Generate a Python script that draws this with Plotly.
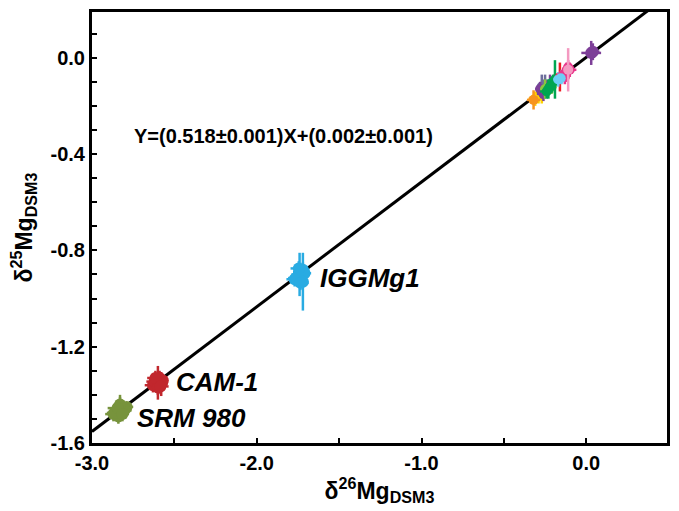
import plotly.graph_objects as go

# ---- data ----
slope = 0.518
intercept = 0.002
line_x = [-3.0, 0.6]

srm_x = [-2.87, -2.85, -2.84, -2.83, -2.82, -2.81, -2.79, -2.86, -2.80, -2.83, -2.845, -2.815]
srm_y = [-1.48, -1.47, -1.49, -1.46, -1.45, -1.465, -1.45, -1.475, -1.46, -1.44, -1.455, -1.48]
srm_ex = [0.05, 0.04, 0.04, 0.06, 0.03, 0.05, 0.04, 0.05, 0.04, 0.03, 0.06, 0.04]
srm_ey = [0.03, 0.03, 0.03, 0.05, 0.03, 0.03, 0.02, 0.03, 0.03, 0.04, 0.03, 0.03]

cam_x = [-2.63, -2.61, -2.60, -2.59, -2.58, -2.62, -2.57, -2.60, -2.615, -2.585]
cam_y = [-1.36, -1.35, -1.34, -1.33, -1.355, -1.345, -1.34, -1.37, -1.33, -1.365]
cam_ex = [0.05, 0.04, 0.05, 0.04, 0.04, 0.05, 0.03, 0.04, 0.05, 0.05]
cam_ey = [0.03, 0.04, 0.06, 0.03, 0.05, 0.03, 0.02, 0.05, 0.03, 0.03]

igg_x = [-1.77, -1.75, -1.74, -1.73, -1.72, -1.76, -1.71, -1.72, -1.745, -1.735]
igg_y = [-0.92, -0.91, -0.90, -0.89, -0.88, -0.915, -0.895, -0.93, -0.875, -0.935]
igg_ex = [0.05, 0.04, 0.05, 0.05, 0.04, 0.05, 0.04, 0.02, 0.05, 0.05]
igg_ey = [0.03, 0.03, 0.09, 0.03, 0.03, 0.03, 0.03, 0.12, 0.03, 0.03]

# top-right cluster: (name, color, x, y, ex, ey)
cluster = [
    ("yellow", "#ffd400", [-0.31, -0.29, -0.27], [-0.17, -0.16, -0.15], [0.04, 0.03, 0.03], [0.03, 0.03, 0.04]),
    ("orange", "#f7941d", [-0.32], [-0.175], [0.04], [0.04]),
    ("slate", "#6d6e9c", [-0.27, -0.25], [-0.12, -0.11], [0.03, 0.03], [0.05, 0.04]),
    ("purple2", "#7b3f98", [-0.26, -0.22, -0.28], [-0.15, -0.11, -0.13], [0.04, 0.03, 0.03], [0.03, 0.04, 0.03]),
    ("lime", "#8dc63f", [-0.25, -0.21], [-0.13, -0.12], [0.03, 0.03], [0.04, 0.03]),
    ("green", "#00a651", [-0.24, -0.22, -0.20, -0.23, -0.19], [-0.14, -0.12, -0.10, -0.13, -0.09], [0.04, 0.03, 0.03, 0.03, 0.02], [0.03, 0.03, 0.03, 0.04, 0.08]),
    ("red", "#ed1c24", [-0.16], [-0.08], [0.02], [0.06]),
    ("cyan", "#6dcff6", [-0.17, -0.15], [-0.09, -0.08], [0.03, 0.03], [0.03, 0.03]),
    ("magenta", "#e8378b", [-0.14, -0.12, -0.10, -0.13, -0.11], [-0.07, -0.06, -0.05, -0.08, -0.04], [0.04, 0.03, 0.04, 0.03, 0.03], [0.03, 0.04, 0.03, 0.03, 0.03]),
    ("pink", "#f49ac1", [-0.11], [-0.05], [0.02], [0.09]),
    ("cyan2", "#6dcff6", [-0.155], [-0.085], [0.0], [0.0]),
]

pt_x = [0.03, 0.04]
pt_y = [0.02, 0.025]
pt_ex = [0.06, 0.04]
pt_ey = [0.05, 0.035]

x_tickvals = [-3.0, -2.0, -1.0, 0.0]
x_ticktext = ["-3.0", "-2.0", "-1.0", "0.0"]
y_tickvals = [-1.6, -1.2, -0.8, -0.4, 0.0]
y_ticktext = ["-1.6", "-1.2", "-0.8", "-0.4", "0.0"]

FONT = "Arial, Liberation Sans, sans-serif"

fig = go.Figure()

line_y = [slope * v + intercept for v in line_x]
fig.add_trace(go.Scatter(x=line_x, y=line_y, mode="lines",
                         line=dict(color="black", width=3), showlegend=False))


def add_group(xs, ys, exs, eys, color, size=10):
    fig.add_trace(go.Scatter(
        x=xs, y=ys, mode="markers",
        marker=dict(color=color, size=size, line=dict(width=0)),
        error_x=dict(type="data", array=exs, color=color, thickness=2.5, width=0),
        error_y=dict(type="data", array=eys, color=color, thickness=2.5, width=0),
        showlegend=False))


add_group(srm_x, srm_y, srm_ex, srm_ey, "#77933c", 12)
add_group(cam_x, cam_y, cam_ex, cam_ey, "#c1272d", 12)
add_group(igg_x, igg_y, igg_ex, igg_ey, "#29abe2", 12)
for name, col, xs, ys, exs, eys in cluster:
    add_group(xs, ys, exs, eys, col, 10)
add_group(pt_x, pt_y, pt_ex, pt_ey, "#7d3f98", 12)

labels = [("IGGMg1", -1.63, -0.915), ("CAM-1", -2.50, -1.347), ("SRM 980", -2.74, -1.497)]
for txt, lx, ly in labels:
    fig.add_annotation(x=lx, y=ly, text="<b><i>" + txt + "</i></b>", showarrow=False,
                       xanchor="left", yanchor="middle",
                       font=dict(family=FONT, size=26, color="black"))

fig.add_annotation(x=-1.84, y=-0.326, text="<b>Y=(0.518±0.001)X+(0.002±0.001)</b>",
                   showarrow=False, xanchor="center", yanchor="middle",
                   font=dict(family=FONT, size=20, color="black"))

axis_common = dict(showgrid=False, zeroline=False, showline=True, linecolor="black",
                   linewidth=3, mirror=True, ticks="inside", ticklen=5, tickwidth=2,
                   tickcolor="black", tickfont=dict(family=FONT, size=20, color="black"))

fig.update_xaxes(range=[-3.0, 0.49], tickvals=x_tickvals, ticktext=[f"<b>{t}</b>" for t in x_ticktext],
                 minor=dict(tick0=0, dtick=0.5, ticks="inside", ticklen=5, tickwidth=2, tickcolor="black"),
                 title=dict(text="<b>δ<sup>26</sup>Mg<sub>DSM3</sub></b>", font=dict(family=FONT, size=23, color="black"), standoff=8),
                 **axis_common)
fig.update_yaxes(range=[-1.6, 0.19], tickvals=y_tickvals, ticktext=[f"<b>{t}</b>" for t in y_ticktext],
                 minor=dict(tick0=0, dtick=0.1, ticks="inside", ticklen=5, tickwidth=2, tickcolor="black"),
                 title=dict(text="<b>δ<sup>25</sup>Mg<sub>DSM3</sub></b>", font=dict(family=FONT, size=23, color="black"), standoff=12),
                 **axis_common)

fig.update_layout(width=679, height=511, margin=dict(l=92, r=9, t=11, b=68),
                  plot_bgcolor="white", paper_bgcolor="white", showlegend=False)

fig.write_html("out.html")
